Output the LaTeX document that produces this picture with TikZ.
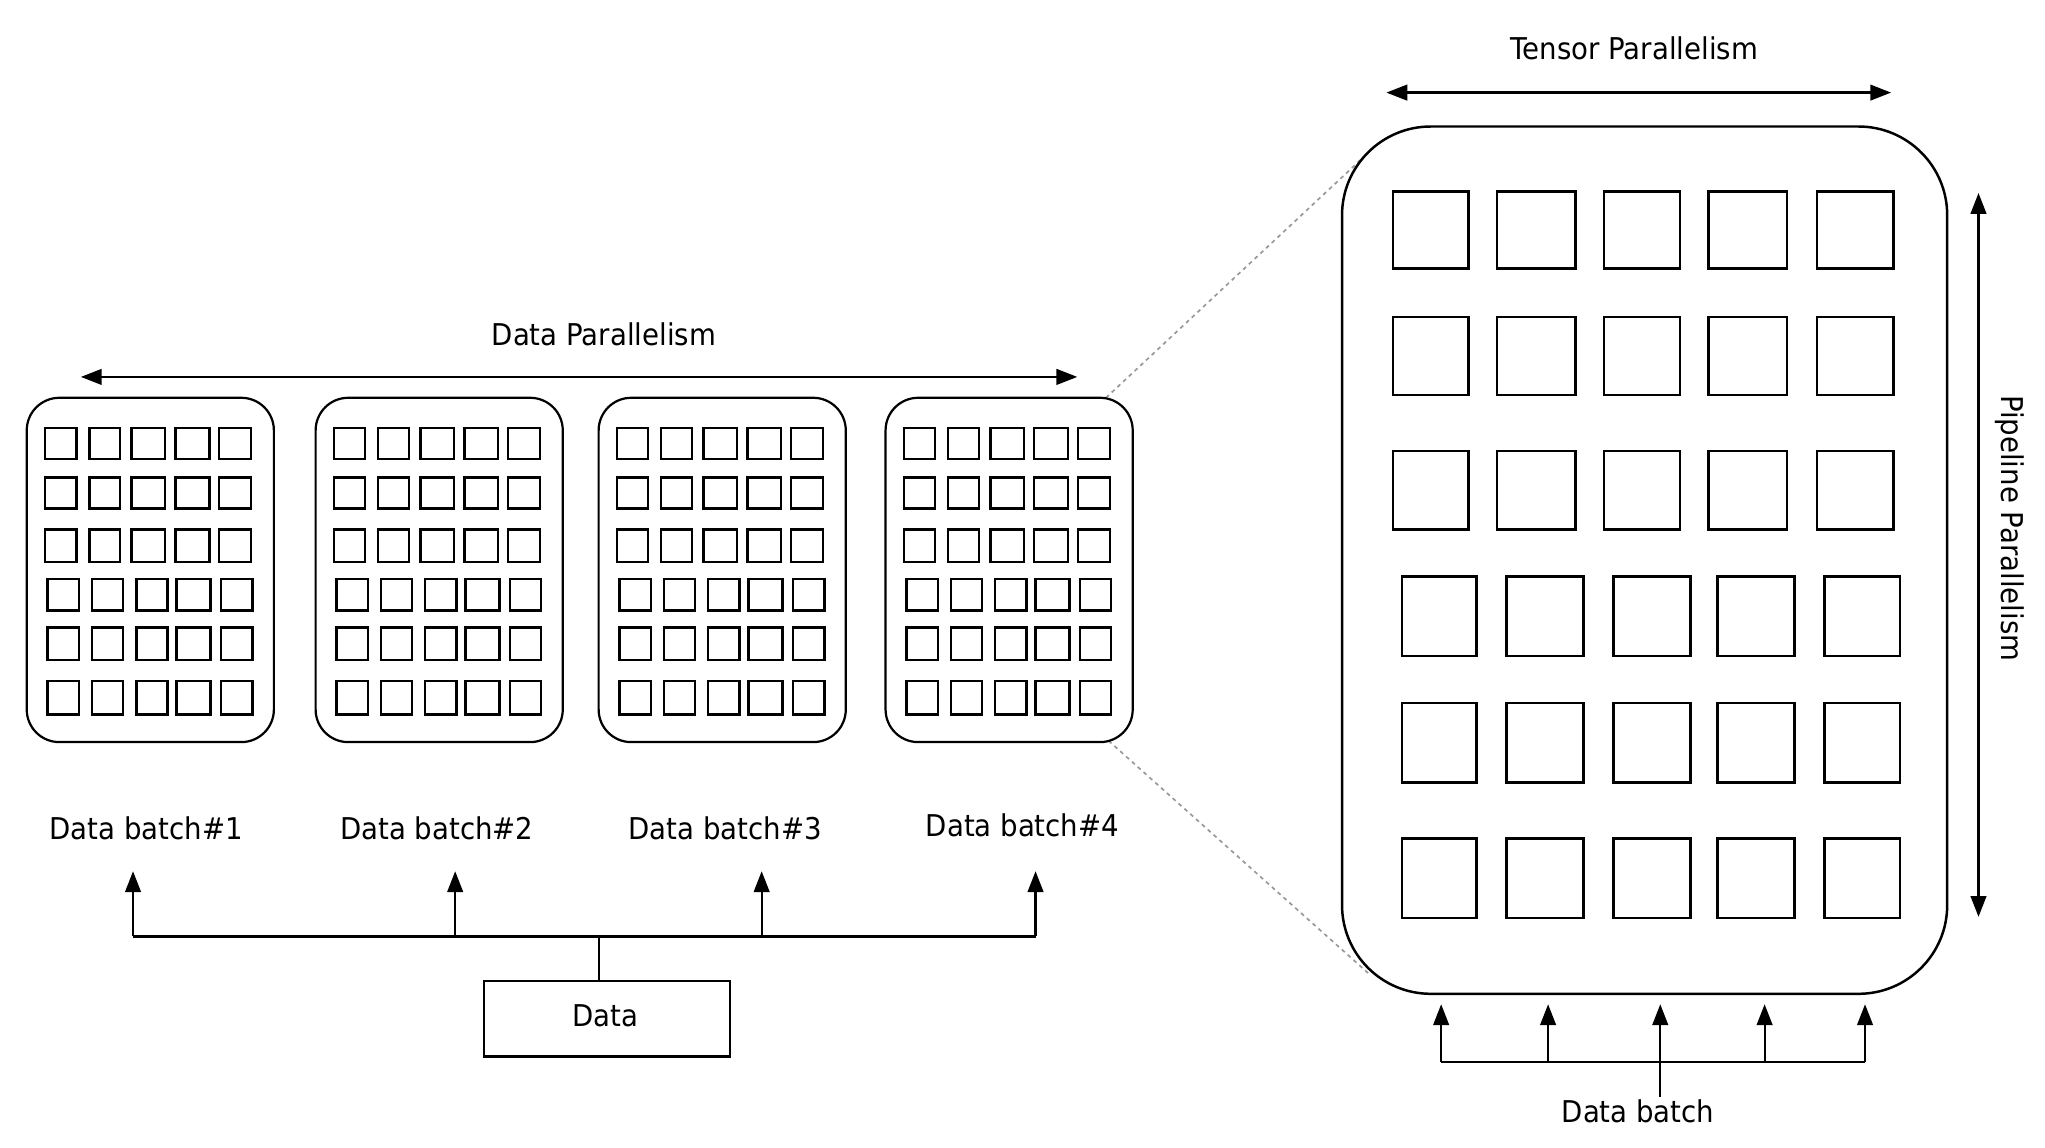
\documentclass[tikz,border=0pt]{standalone}
\usepackage{fontspec}
\setmainfont{DejaVu Sans}[FakeStretch=0.92]
\usetikzlibrary{arrows.meta}
\begin{document}
\begin{tikzpicture}[x=1pt,y=-1pt,
  every node/.style={font=\fontsize{23}{27}\selectfont, inner sep=0pt},
  gpu/.style={draw,line width=1.7pt,rounded corners=25pt},
  bigbox/.style={draw,line width=1.9pt,rounded corners=68pt},
  cell/.style={draw,line width=1.9pt},
  conn/.style={line width=1.7pt},
  arr/.style={line width=1.7pt,-{Triangle[length=16pt,width=12pt]}},
  darr/.style={line width=1.7pt,{Triangle[length=16pt,width=12pt]}-{Triangle[length=16pt,width=12pt]}},
  zoomline/.style={gray!80,line width=1.3pt,dash pattern=on 3pt off 3pt},
  plain/.style={draw,line width=1.7pt}]
\useasboundingbox (0,0) rectangle (1568,880);

% ---- zoom lines
\coordinate (z1a) at (848,305);
\coordinate (z1b) at (1046,120);
\coordinate (z2a) at (850,568);
\coordinate (z2b) at (1050,747);
\draw[zoomline] (z1a) -- (z1b);
\draw[zoomline] (z2a) -- (z2b);

% ---- data parallel boxes
\foreach \bx [count=\k] in {20.5,242,459,679} {
  \draw[gpu] (\bx,305) rectangle ++(189.5,264);
  \foreach \a/\b in {14/38,48/71.5,80.5/106,114/140,147.5/172} {
    \foreach \ya/\yb in {328/352,366/390,406/431} {
      \draw[cell] (\bx+\a,\ya) rectangle (\bx+\b,\yb);
    }
  }
  \foreach \a/\b in {16/40,50/74,84/108,115/141,149/173} {
    \foreach \ya/\yb in {444/468,481/506,522/548} {
      \draw[cell] (\bx+\a,\ya) rectangle (\bx+\b,\yb);
    }
  }
}

% ---- data parallelism arrow
\node (dp) at (463,256) {Data Parallelism};
\coordinate (dpl) at (62,289);
\coordinate (dpr) at (826,289);
\draw[darr] (dpl) -- (dpr);

% ---- labels
\node (l1) at (112,635) {Data batch\#1};
\node (l2) at (335,635) {Data batch\#2};
\node (l3) at (556,635) {Data batch\#3};
\node (l4) at (784,633) {Data batch\#4};

% ---- data box and bus
\node[plain, minimum width=189pt, minimum height=58pt] (data) at (465.5,781) {};
\node at (464,779) {Data};
\coordinate (bj) at (459,718);
\coordinate (b1) at (102,718);
\coordinate (b2) at (349,718);
\coordinate (b3) at (584,718);
\coordinate (b4) at (794,718);
\coordinate (t1) at (102,668);
\coordinate (t2) at (349,668);
\coordinate (t3) at (584,668);
\coordinate (t4) at (794,668);
\draw[conn] (data.north -| bj) -- (bj);
\draw[conn] (b1) -- (b4);
\foreach \i in {1,2,3,4} { \draw[arr] (b\i) -- (t\i); }

% ---- big box
\draw[bigbox] (1029,97) rectangle (1493,762);
\foreach \a/\b in {1068/1126,1148/1208,1230/1288,1310/1370,1393/1452} {
  \foreach \ya/\yb in {147/206,243/303,346/406} {
    \draw[cell] (\a,\ya) rectangle (\b,\yb);
  }
}
\foreach \a/\b in {1075/1132,1155/1214,1237/1296,1317/1376,1399/1457} {
  \foreach \ya/\yb in {442/503,539/600,643/704} {
    \draw[cell] (\a,\ya) rectangle (\b,\yb);
  }
}

% ---- tensor parallelism
\node (tp) at (1253,37) {Tensor Parallelism};
\coordinate (tpl) at (1063,71);
\coordinate (tpr) at (1450,71);
\draw[darr] (tpl) -- (tpr);

% ---- pipeline parallelism
\node[rotate=-90] (pp) at (1541,405) {Pipeline Parallelism};
\coordinate (ppt) at (1517,148);
\coordinate (ppb) at (1517,703);
\draw[darr] (ppt) -- (ppb);

% ---- data batch feed
\node (db) at (1256,852) {Data batch};
\coordinate (fj) at (1273,814);
\coordinate (f1) at (1105,814);
\coordinate (f2) at (1187,814);
\coordinate (f3) at (1273,814);
\coordinate (f4) at (1353,814);
\coordinate (f5) at (1430,814);
\coordinate (g1) at (1105,770);
\coordinate (g2) at (1187,770);
\coordinate (g3) at (1273,770);
\coordinate (g4) at (1353,770);
\coordinate (g5) at (1430,770);
\draw[conn] (db.north -| fj) ++(0,-2) -- (fj);
\draw[conn] (f1) -- (f5);
\foreach \i in {1,...,5} { \draw[arr] (f\i) -- (g\i); }
\end{tikzpicture}
\end{document}
